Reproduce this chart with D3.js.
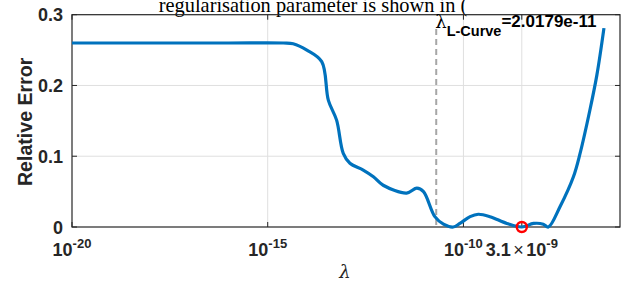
<!DOCTYPE html>
<html>
<head>
<meta charset="utf-8">
<script src="https://cdn.jsdelivr.net/npm/d3@7"></script>
<style>
  body { margin: 0; background: #fff; }
  svg { display: block; }
  text { font-family: Arial, "Liberation Sans", sans-serif; fill: #262626; }
</style>
</head>
<body>
<svg id="chart" width="622" height="284"></svg>
<script>
// log10(lambda) and relative error
var logLambda = [-20, -18, -16, -14.6, -14.35, -14.0, -13.62, -13.45, -13.24, -13.07, -12.9, -12.56,
    -12.3, -12.05, -11.45, -11.19, -11.02, -10.73, -10.51, -10.26, -10.09, -9.83, -9.62, -9.32,
    -8.89, -8.51, -8.21, -7.96, -7.83, -7.53, -7.19, -7.02, -6.77, -6.59, -6.41];
var relError = [0.26, 0.26, 0.26, 0.26, 0.259, 0.25, 0.2336, 0.179, 0.151, 0.104, 0.09, 0.0805,
    0.071, 0.059, 0.048, 0.055, 0.05, 0.0146, 0.004, 0.0, 0.005, 0.0146, 0.018, 0.0146,
    0.005, 0.0, 0.005, 0.004, 0.0, 0.029, 0.071, 0.104, 0.165, 0.215, 0.281];

var xTicks = [1e-20, 1e-15, 1e-10, 3.1e-9];
var xTickLabels = [['10', '-20'], ['10', '-15'], ['10', '-10'], ['3.1\u00d710', '-9']];
var yTicks = [0, 0.1, 0.2, 0.3];
var lambdaLCurve = 2.0179e-11;
var lambdaOpt = 3.1e-9;

var svg = d3.select('#chart');
var mLeft = 72, mRight = 620, mTop = 14.7, mBottom = 227;

var x = d3.scaleLog().domain([1e-20, 1e-6]).range([mLeft, mRight]);
var y = d3.scaleLinear().domain([0, 0.3]).range([mBottom, mTop]);

// title, clipped by the top of the window
svg.append('text')
    .attr('x', 313).attr('y', 11.5)
    .attr('text-anchor', 'middle')
    .style('font-family', '"Liberation Serif", "Times New Roman", serif')
    .style('font-size', '20.4px')
    .style('fill', '#000')
    .text('regularisation parameter is shown in (');

// grid
var grid = svg.append('g');
xTicks.slice(1).forEach(function (t) {
    grid.append('line')
        .attr('x1', x(t)).attr('x2', x(t))
        .attr('y1', mTop).attr('y2', mBottom)
        .attr('stroke', '#dfdfdf').attr('stroke-width', 1);
});
yTicks.slice(1, 3).forEach(function (t) {
    grid.append('line')
        .attr('x1', mLeft).attr('x2', mRight)
        .attr('y1', y(t)).attr('y2', y(t))
        .attr('stroke', '#dfdfdf').attr('stroke-width', 1);
});

// L-curve lambda
svg.append('line')
    .attr('x1', x(lambdaLCurve)).attr('x2', x(lambdaLCurve))
    .attr('y1', 29).attr('y2', mBottom)
    .attr('stroke', '#a6a6a6').attr('stroke-width', 2)
    .attr('stroke-dasharray', '6,4');

// box and ticks
var axisColor = '#262626';
svg.append('rect')
    .attr('x', mLeft).attr('y', mTop)
    .attr('width', mRight - mLeft).attr('height', mBottom - mTop)
    .attr('fill', 'none').attr('stroke', axisColor).attr('stroke-width', 1.2);

var tickLen = 5;
xTicks.forEach(function (t) {
    svg.append('line').attr('x1', x(t)).attr('x2', x(t))
        .attr('y1', mBottom).attr('y2', mBottom - tickLen).attr('stroke', axisColor);
    svg.append('line').attr('x1', x(t)).attr('x2', x(t))
        .attr('y1', mTop).attr('y2', mTop + tickLen).attr('stroke', axisColor);
});
yTicks.forEach(function (t) {
    svg.append('line').attr('x1', mLeft).attr('x2', mLeft + tickLen)
        .attr('y1', y(t)).attr('y2', y(t)).attr('stroke', axisColor);
    svg.append('line').attr('x1', mRight).attr('x2', mRight - tickLen)
        .attr('y1', y(t)).attr('y2', y(t)).attr('stroke', axisColor);
});

// y tick labels
yTicks.forEach(function (t) {
    svg.append('text')
        .attr('x', 63).attr('y', y(t) + 6.5)
        .attr('text-anchor', 'end')
        .style('font-size', '18px').style('font-weight', 'bold')
        .text(t === 0 ? '0' : t.toFixed(1));
});

// x tick labels
xTicks.forEach(function (t, i) {
    var lab = svg.append('text')
        .attr('x', x(t)).attr('y', 256)
        .attr('text-anchor', 'middle')
        .style('font-size', '18px').style('font-weight', 'bold');
    var base = xTickLabels[i][0];
    if (base.indexOf('\u00d7') >= 0) {
        var parts = base.split('\u00d7');
        lab.append('tspan').text(parts[0]);
        lab.append('tspan').attr('dx', 2.5).style('font-weight', 'normal').text('\u00d7');
        lab.append('tspan').attr('dx', 2.5).text(parts[1]);
    } else {
        lab.append('tspan').text(base);
    }
    lab.append('tspan').attr('dy', -8).style('font-size', '13px').text(xTickLabels[i][1]);
});

// axis labels
svg.append('text')
    .attr('transform', 'translate(32,' + ((mTop + mBottom) / 2 + 1) + ') rotate(-90)')
    .attr('text-anchor', 'middle')
    .style('font-size', '19.6px').style('font-weight', 'bold')
    .text('Relative Error');

svg.append('text')
    .attr('x', 345).attr('y', 278)
    .attr('text-anchor', 'middle')
    .style('font-family', '"DejaVu Serif", serif')
    .style('font-style', 'italic')
    .style('font-size', '18px')
    .text('\u03bb');

// curve
var line = d3.line()
    .x(function (d) { return x(Math.pow(10, d[0])); })
    .y(function (d) { return y(d[1]); })
    .curve(d3.curveCatmullRom.alpha(0.5));

svg.append('path')
    .datum(d3.zip(logLambda, relError))
    .attr('d', line)
    .attr('fill', 'none')
    .attr('stroke', '#0072BD')
    .attr('stroke-width', 3.2)
    .attr('stroke-linejoin', 'round');

// annotation
var ann = svg.append('text').attr('x', x(lambdaLCurve) - 1).attr('y', 28);
ann.append('tspan').style('font-family', '"DejaVu Serif", serif').style('font-size', '18px')
    .style('fill', '#000').text('\u03bb');
ann.append('tspan').attr('dy', 8).style('font-size', '14.5px').style('font-weight', 'bold')
    .style('fill', '#000').text('L-Curve');
ann.append('tspan').attr('dy', -9).style('font-size', '17px').style('font-weight', 'bold')
    .style('fill', '#000').text('=2.0179e-11');

// optimal point
svg.append('circle')
    .attr('cx', x(lambdaOpt)).attr('cy', y(0))
    .attr('r', 5)
    .attr('fill', 'none')
    .attr('stroke', '#ff0000')
    .attr('stroke-width', 2.5);
</script>
</body>
</html>
